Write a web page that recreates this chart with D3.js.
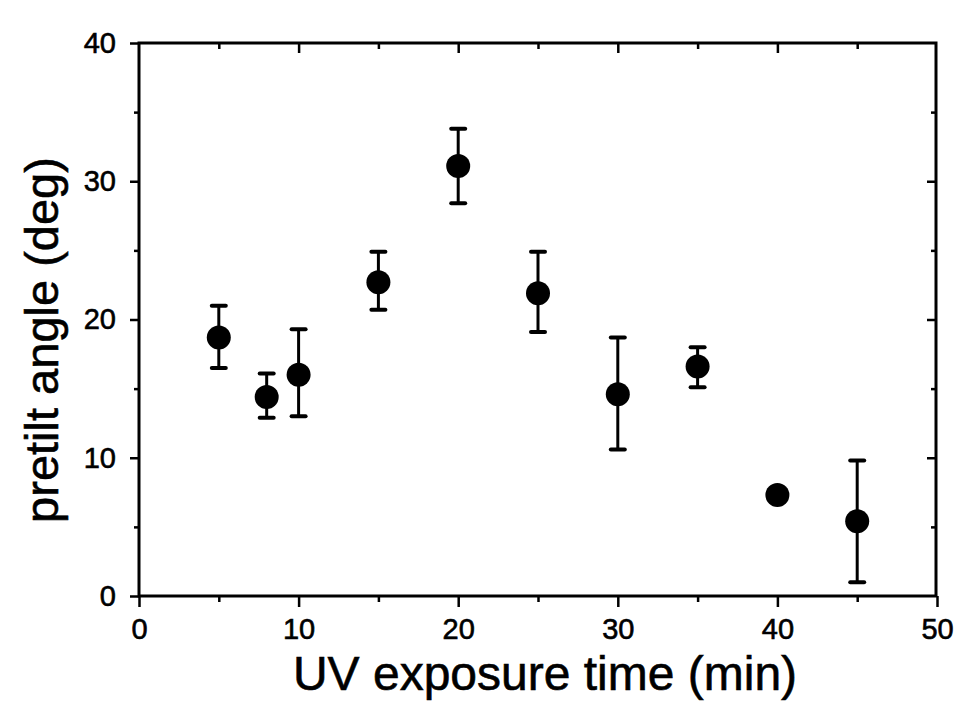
<!DOCTYPE html>
<html>
<head>
<meta charset="utf-8">
<script src="https://cdn.jsdelivr.net/npm/d3@7"></script>
<style>
  body { margin: 0; background: #fff; }
  svg { display: block; }
  text { font-family: "Liberation Sans", Arial, sans-serif; fill: #000; stroke: #000; stroke-width: 0.6px; }
</style>
</head>
<body>
<svg id="chart" width="954" height="712"></svg>
<script>
// Data
const exposureTime = [5, 8, 10, 15, 20, 25, 30, 35, 40, 45];
const pretiltAngle = [18.7, 14.4, 16.0, 22.7, 31.1, 21.9, 14.6, 16.6, 7.3, 5.4];
const errorUpper   = [21.0, 16.1, 19.3, 24.9, 33.8, 24.9, 18.7, 18.0, null, 9.8];
const errorLower   = [16.5, 12.9, 13.0, 20.7, 28.4, 19.1, 10.6, 15.1, null, 1.0];
const xTicks = [0, 10, 20, 30, 40, 50];
const yTicks = [0, 10, 20, 30, 40];
const xMinor = [5, 15, 25, 35, 45];
const yMinor = [5, 15, 25, 35];

const svg = d3.select("#chart");
const mLeft = 139, mRight = 937, mTop = 43, mBottom = 596;

const x = d3.scaleLinear().domain([0, 50]).range([mLeft, mRight]);
const y = d3.scaleLinear().domain([0, 40]).range([mBottom, mTop]);

const axisStroke = 3;
const rightX = x(50) - 1;

// Frame
svg.append("rect")
  .attr("x", x(0)).attr("y", y(40))
  .attr("width", rightX - x(0)).attr("height", y(0) - y(40))
  .attr("fill", "none").attr("stroke", "#000").attr("stroke-width", axisStroke);

function styleAxis(g) {
  g.select(".domain").remove();
  g.selectAll(".tick line").attr("stroke", "#000").attr("stroke-width", 2.5);
  g.attr("font-size", 29).attr("font-family", "Liberation Sans, Arial, sans-serif");
}

// Bottom axis: outward ticks with labels
svg.append("g").attr("transform", `translate(0,${mBottom})`)
  .call(d3.axisBottom(x).tickValues(xTicks).tickSize(11).tickPadding(11).tickFormat(d3.format("d")))
  .call(styleAxis);
svg.append("g").attr("transform", `translate(0,${mBottom})`)
  .call(d3.axisBottom(x).tickValues(xMinor).tickSize(6).tickFormat(""))
  .call(styleAxis);

// Top axis: inward ticks
svg.append("g").attr("transform", `translate(0,${mTop})`)
  .call(d3.axisBottom(x).tickValues(xTicks.filter(v => v > 0 && v < 50)).tickSize(10).tickFormat(""))
  .call(styleAxis);
svg.append("g").attr("transform", `translate(0,${mTop})`)
  .call(d3.axisBottom(x).tickValues(xMinor).tickSize(6).tickFormat(""))
  .call(styleAxis);

// Left axis: outward ticks with labels
svg.append("g").attr("transform", `translate(${mLeft},0)`)
  .call(d3.axisLeft(y).tickValues(yTicks).tickSize(9).tickPadding(14).tickFormat(d3.format("d")))
  .call(styleAxis);
svg.append("g").attr("transform", `translate(${mLeft},0)`)
  .call(d3.axisLeft(y).tickValues(yMinor).tickSize(5).tickFormat(""))
  .call(styleAxis);

// Right axis: inward ticks
svg.append("g").attr("transform", `translate(${rightX},0)`)
  .call(d3.axisLeft(y).tickValues(yTicks.filter(v => v > 0 && v < 40)).tickSize(9).tickFormat(""))
  .call(styleAxis);
svg.append("g").attr("transform", `translate(${rightX},0)`)
  .call(d3.axisLeft(y).tickValues(yMinor).tickSize(5).tickFormat(""))
  .call(styleAxis);

// Data
const data = exposureTime.map((t, i) => ({
  t, v: pretiltAngle[i], hi: errorUpper[i], lo: errorLower[i]
}));

const eb = svg.append("g");
data.filter(d => d.hi !== null).forEach(d => {
  eb.append("line")
    .attr("x1", x(d.t)).attr("x2", x(d.t))
    .attr("y1", y(d.hi)).attr("y2", y(d.lo))
    .attr("stroke", "#000").attr("stroke-width", 3);
  [d.hi, d.lo].forEach(val => {
    eb.append("line")
      .attr("x1", x(d.t) - 7).attr("x2", x(d.t) + 7)
      .attr("y1", y(val)).attr("y2", y(val))
      .attr("stroke", "#000").attr("stroke-width", 4)
      .attr("stroke-linecap", "round");
  });
});

svg.append("g").selectAll("circle").data(data).join("circle")
  .attr("cx", d => x(d.t)).attr("cy", d => y(d.v))
  .attr("r", 12).attr("fill", "#000");

// Axis titles
svg.append("text")
  .attr("x", 545).attr("y", 690)
  .attr("text-anchor", "middle")
  .attr("font-size", 48)
  .text("UV exposure time (min)");

svg.append("text")
  .attr("transform", `translate(58,340) rotate(-90)`)
  .attr("text-anchor", "middle")
  .attr("font-size", 47)
  .text("pretilt angle (deg)");
</script>
</body>
</html>
